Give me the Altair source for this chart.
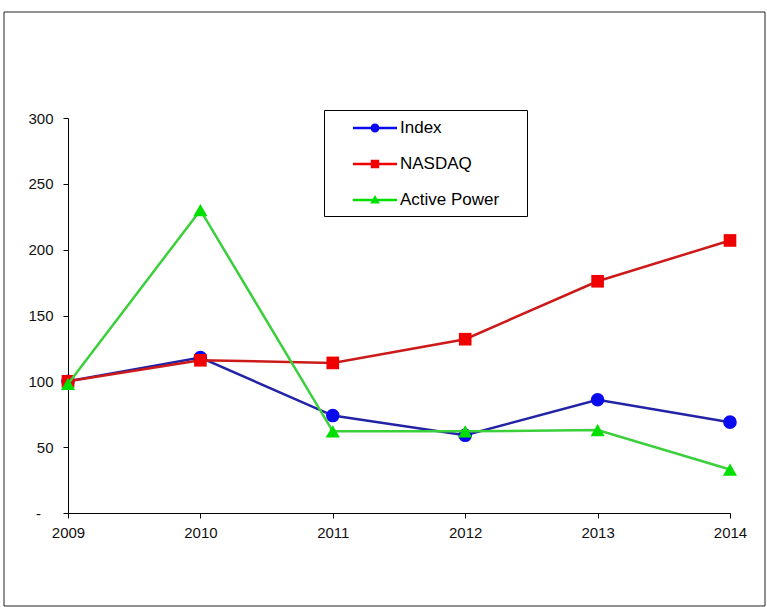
import altair as alt
import pandas as pd

years = [2009, 2010, 2011, 2012, 2013, 2014]
series = ["Index", "NASDAQ", "Active Power"]
index_vals = [100, 118, 74, 59, 86, 69]
nasdaq_vals = [100, 116, 114, 132, 176, 207]
active_vals = [98, 230, 62, 62, 63, 33]
y_ticks = [0, 50, 100, 150, 200, 250, 300]

line_colors = ["#2323A6", "#CC1A1A", "#3CCF3C"]
marker_colors = ["#0A0AEE", "#F00000", "#00E000"]
marker_shapes = ["circle", "square", "triangle-up"]
marker_sizes = [185, 160, 200]

# legend symbols: line segment + marker (unit box, scaled by sqrt(size)/2)
legend_paths = [
    "M-2.2,-0.13H2.2V0.13H-2.2Z M0.45,0A0.45,0.45,0,1,1,-0.45,0A0.45,0.45,0,1,1,0.45,0Z",
    "M-2.2,-0.13H2.2V0.13H-2.2Z M-0.42,-0.42H0.42V0.42H-0.42Z",
    "M-2.2,-0.13H2.2V0.13H-2.2Z M0,-0.5L0.48,0.35H-0.48Z",
]

rows = []
for name, vals in zip(series, [index_vals, nasdaq_vals, active_vals]):
    for yr, v in zip(years, vals):
        rows.append({"series": name, "year": yr, "value": v})
df = pd.DataFrame(rows)

FONT = "Liberation Sans"
NB = "\u00a0"
ZW = "\u200b"

x_enc = alt.X(
    "year:Q",
    scale=alt.Scale(domain=[2009, 2014], nice=False, zero=False),
    axis=alt.Axis(values=years, format="d", title=None, labelPadding=7, labelFlush=False),
)
y_enc = alt.Y(
    "value:Q",
    scale=alt.Scale(domain=[0, 300], nice=False),
    axis=alt.Axis(
        values=y_ticks,
        title=None,
        labelPadding=10,
        labelFlush=False,
        labelExpr="datum.value == 0 ? '-" + NB * 3 + ZW + "' : datum.label",
    ),
)

leg = alt.Legend(
    title=None,
    orient="none",
    legendX=256,
    legendY=-8,
    direction="vertical",
    strokeColor="black",
    padding=8,
    rowPadding=18,
    symbolSize=400,
    symbolOffset=33,
    symbolStrokeWidth=0,
    labelOffset=15,
    labelFont=FONT,
    labelFontSize=17,
    labelColor="black",
    labelExpr="datum.label + '" + NB * 4 + ZW + "'",
)

frame = alt.Chart(pd.DataFrame({"a": [0]})).mark_rect(
    fillOpacity=0, stroke="#222222", strokeWidth=1
).encode(
    x=alt.value(-64), x2=alt.value(697), y=alt.value(-106), y2=alt.value(488)
)

legend_layer = alt.Chart(df).mark_point(filled=True, clip=True, opacity=1).encode(
    x=alt.value(-1000),
    y=alt.value(-1000),
    color=alt.Color("series:N", scale=alt.Scale(domain=series, range=marker_colors), legend=leg),
    shape=alt.Shape("series:N", scale=alt.Scale(domain=series, range=legend_paths), legend=leg),
)

layers = [frame, legend_layer]
for i, name in enumerate(series):
    sub = alt.Chart(df).transform_filter(alt.datum.series == name)
    layers.append(
        sub.mark_line(color=line_colors[i], strokeWidth=2.5).encode(x=x_enc, y=y_enc)
    )
    layers.append(
        sub.mark_point(
            filled=True,
            shape=marker_shapes[i],
            size=marker_sizes[i],
            color=marker_colors[i],
            opacity=1,
        ).encode(x=x_enc, y=y_enc)
    )

chart = (
    alt.layer(*layers)
    .properties(
        width=662,
        height=395,
        autosize=alt.AutoSizeParams(type="none"),
        padding={"left": 68, "top": 118, "right": 37, "bottom": 94},
        background="white",
    )
    .configure_view(strokeWidth=0)
    .configure_axis(
        grid=False,
        domainColor="black",
        domainWidth=1,
        tickColor="black",
        tickWidth=1,
        tickSize=5,
        labelFont=FONT,
        labelFontSize=15,
        labelColor="#111111",
    )
)

chart.save("out.html", embed_options={"renderer": "svg", "actions": False})
